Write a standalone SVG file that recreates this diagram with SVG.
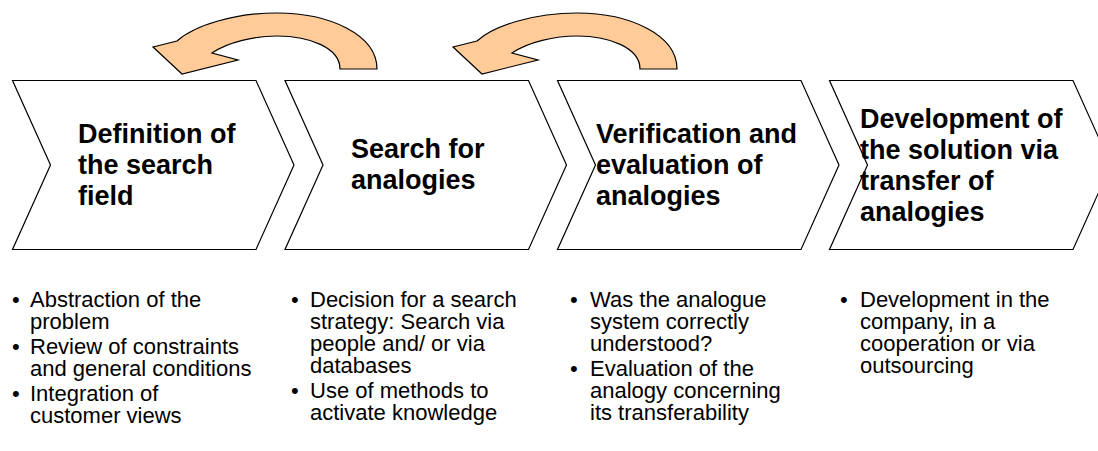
<svg xmlns="http://www.w3.org/2000/svg" width="1098" height="451" viewBox="0 0 1098 451">
<style>
.chev{fill:#fff;stroke:#000;stroke-width:1.2;stroke-linejoin:miter}
.arr{fill:#FFCC99;stroke:#000;stroke-width:1.2;stroke-linejoin:miter}
.t{font-family:"Liberation Sans",Arial,sans-serif;font-weight:bold;font-size:27px;fill:#000}
.b{font-family:"Liberation Sans",Arial,sans-serif;font-size:22px;fill:#000}
</style>
<defs>
<path id="chev" d="M0,80.5 H243.5 L281.5,165 L243.5,249.5 H0 L38,165 Z"/>
<path id="curv" d="M377,69 L340,69 C340,48 310,36 277,36 C255,36 228,42 212,53 L238,60 L182,74 L153,47 L177,41 C195,25 235,13 277,13 C330,13 377,35 377,69 Z"/>
</defs>
<rect width="1098" height="451" fill="#fff"/>
<g id="step1">
<use href="#chev" class="chev" x="12.5"/>
<text class="t"><tspan x="78" y="143">Definition of</tspan><tspan x="78" y="174">the search</tspan><tspan x="78" y="205">field</tspan></text>
</g>
<g id="step2">
<use href="#chev" class="chev" x="285"/>
<text class="t"><tspan x="351" y="158">Search for</tspan><tspan x="351" y="189">analogies</tspan></text>
</g>
<g id="step3">
<use href="#chev" class="chev" x="557.5"/>
<text class="t"><tspan x="596" y="143">Verification and</tspan><tspan x="596" y="174">evaluation of</tspan><tspan x="596" y="205">analogies</tspan></text>
</g>
<g id="step4">
<use href="#chev" class="chev" x="829.5"/>
<text class="t"><tspan x="860" y="127.5">Development of</tspan><tspan x="860" y="158.5">the solution via</tspan><tspan x="860" y="189.5">transfer of</tspan><tspan x="860" y="220.5">analogies</tspan></text>
</g>
<g id="connectors">
<use href="#curv" class="arr"/>
<use href="#curv" class="arr" x="300"/>
</g>
<g id="list1">
<text class="b"><tspan x="12" y="307">•</tspan><tspan x="12" y="354">•</tspan><tspan x="12" y="401">•</tspan></text>
<text class="b"><tspan x="30" y="307">Abstraction of the</tspan><tspan x="30" y="329">problem</tspan><tspan x="30" y="354">Review of constraints</tspan><tspan x="30" y="376">and general conditions</tspan><tspan x="30" y="401">Integration of</tspan><tspan x="30" y="423">customer views</tspan></text>
</g>
<g id="list2">
<text class="b"><tspan x="291" y="307">•</tspan><tspan x="291" y="398">•</tspan></text>
<text class="b"><tspan x="310" y="307">Decision for a search</tspan><tspan x="310" y="329">strategy: Search via</tspan><tspan x="310" y="351">people and/ or via</tspan><tspan x="310" y="373">databases</tspan><tspan x="310" y="398">Use of methods to</tspan><tspan x="310" y="420">activate knowledge</tspan></text>
</g>
<g id="list3">
<text class="b"><tspan x="570" y="307">•</tspan><tspan x="570" y="376">•</tspan></text>
<text class="b"><tspan x="590" y="307">Was the analogue</tspan><tspan x="590" y="329">system correctly</tspan><tspan x="590" y="351">understood?</tspan><tspan x="590" y="376">Evaluation of the</tspan><tspan x="590" y="398">analogy concerning</tspan><tspan x="590" y="420">its transferability</tspan></text>
</g>
<g id="list4">
<text class="b"><tspan x="840" y="307">•</tspan></text>
<text class="b"><tspan x="860" y="307">Development in the</tspan><tspan x="860" y="329">company, in a</tspan><tspan x="860" y="351">cooperation or via</tspan><tspan x="860" y="373">outsourcing</tspan></text>
</g>
</svg>
